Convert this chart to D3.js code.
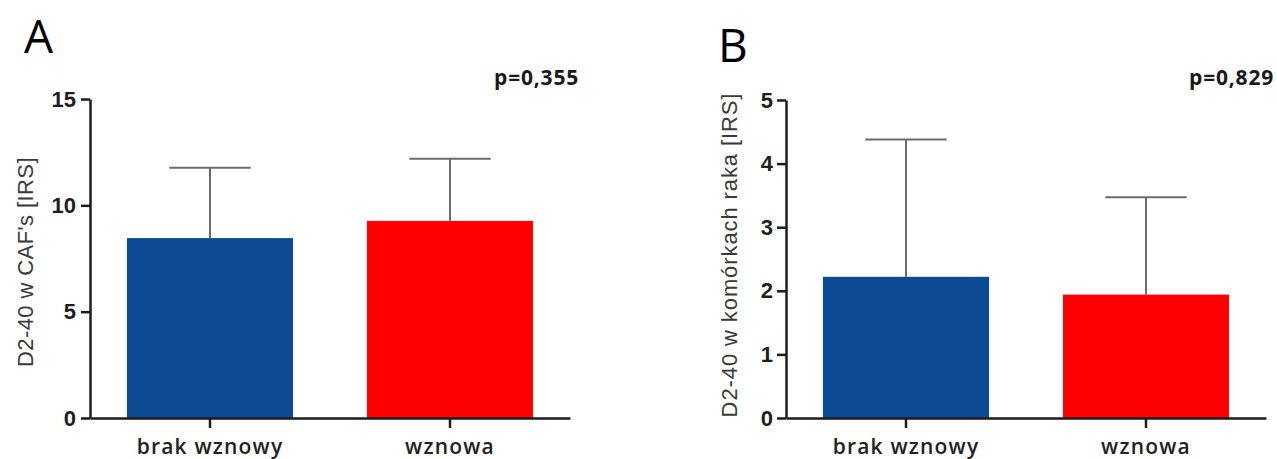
<!DOCTYPE html>
<html>
<head>
<meta charset="utf-8">
<script src="https://cdn.jsdelivr.net/npm/d3@7"></script>
<style>
  html, body { margin: 0; padding: 0; background: #fff; }
  svg { display: block; }
</style>
</head>
<body>
<div id="chart"></div>
<script>
// data
const categories = ["brak wznowy", "wznowa"];
const meansA = [8.46, 9.27];
const upperA = [11.77, 12.19];
const meansB = [2.22, 1.94];
const upperB = [4.38, 3.47];
const ticksA = [0, 5, 10, 15];
const ticksB = [0, 1, 2, 3, 4, 5];
const pValues = ["p=0,355", "p=0,829"];
const barColors = ["#0c4b93", "#ff0000"];

const WIDTH = 1277;
const HEIGHT = 459;
const AXIS_COLOR = "#1c1c1c";
const ERR_COLOR = "#6b6b6b";

const svg = d3
  .select("#chart")
  .append("svg")
  .attr("width", WIDTH)
  .attr("height", HEIGHT);

// draw one panel
function drawPanel(p) {
  const g = svg.append("g");

  const x = d3
    .scaleBand()
    .domain(categories)
    .range(p.xRange)
    .paddingInner(0.308)
    .paddingOuter(0.154);

  const y = d3
    .scaleLinear()
    .domain([0, p.max])
    .range(p.yRange);

  const rows = categories.map((c, i) => ({ cat: c, mean: p.means[i], up: p.upper[i], color: barColors[i] }));

  // error bars (only upper half visible, bar covers the rest)
  const eb = g.append("g").attr("stroke", ERR_COLOR).attr("stroke-width", 2);
  eb.selectAll("line.stem")
    .data(rows)
    .enter()
    .append("line")
    .attr("class", "stem")
    .attr("x1", d => x(d.cat) + x.bandwidth() / 2)
    .attr("x2", d => x(d.cat) + x.bandwidth() / 2)
    .attr("y1", d => y(d.mean))
    .attr("y2", d => y(d.up));
  eb.selectAll("line.cap")
    .data(rows)
    .enter()
    .append("line")
    .attr("class", "cap")
    .attr("x1", d => x(d.cat) + x.bandwidth() / 2 - x.bandwidth() * 0.245)
    .attr("x2", d => x(d.cat) + x.bandwidth() / 2 + x.bandwidth() * 0.245)
    .attr("y1", d => y(d.up))
    .attr("y2", d => y(d.up));

  // bars
  g.append("g")
    .selectAll("rect")
    .data(rows)
    .enter()
    .append("rect")
    .attr("x", d => x(d.cat))
    .attr("width", x.bandwidth())
    .attr("y", d => y(d.mean))
    .attr("height", d => y(0) - y(d.mean))
    .attr("fill", d => d.color);

  // y axis
  const yAxis = g
    .append("g")
    .attr("transform", `translate(${p.xRange[0]},0)`)
    .call(d3.axisLeft(y).tickValues(p.ticks).tickFormat(d3.format("d"))
      .tickSize(9).tickSizeOuter(0).tickPadding(p.tickPad));
  yAxis.selectAll("path, line").attr("stroke", AXIS_COLOR).attr("stroke-width", 2.5);
  yAxis.selectAll("text")
    .attr("fill", "#1e1e1e")
    .attr("font-family", "Liberation Sans, Arial, sans-serif")
    .attr("font-weight", "bold")
    .attr("font-size", 22);

  // x axis
  const xAxis = g
    .append("g")
    .attr("transform", `translate(0,${p.yRange[0]})`)
    .call(d3.axisBottom(x).tickSize(10).tickSizeOuter(0).tickPadding(11));
  xAxis.select("path").attr("stroke", AXIS_COLOR).attr("stroke-width", 2.5);
  xAxis.selectAll("line").attr("stroke", AXIS_COLOR).attr("stroke-width", 2.5);
  xAxis.selectAll("text")
    .attr("fill", "#222")
    .attr("font-family", "Open Sans, sans-serif")
    .attr("font-weight", 600)
    .attr("font-size", 21)
    .attr("letter-spacing", 1.2);

  // y label
  g.append("text")
    .attr("transform", `translate(${p.labelX},${p.labelY}) rotate(-90)`)
    .attr("text-anchor", "middle")
    .attr("fill", "#3a3a3a")
    .attr("font-family", "Liberation Sans, Arial, sans-serif")
    .attr("font-size", p.labelSize)
    .attr("letter-spacing", p.labelSpacing)
    .text(p.label);

  // p value
  g.append("text")
    .attr("x", p.pX)
    .attr("y", 85)
    .attr("text-anchor", "end")
    .attr("fill", "#1a1a1a")
    .attr("font-family", "Open Sans, sans-serif")
    .attr("font-weight", "bold")
    .attr("font-size", 21)
    .attr("letter-spacing", 0.8)
    .text(p.pText);

  // panel letter
  g.append("text")
    .attr("x", p.letterX)
    .attr("y", p.letterY)
    .attr("fill", "#000")
    .attr("font-family", "Open Sans, sans-serif")
    .attr("font-size", 46)
    .text(p.letter);
}

drawPanel({
  means: meansA, upper: upperA, ticks: ticksA, max: 15,
  xRange: [90, 570], yRange: [418, 99], tickPad: 5,
  label: "D2-40 w CAF's [IRS]", labelX: 33, labelY: 262, labelSize: 22, labelSpacing: 0.4,
  pText: pValues[0], pX: 579,
  letter: "A", letterX: 24, letterY: 53
});

drawPanel({
  means: meansB, upper: upperB, ticks: ticksB, max: 5,
  xRange: [786, 1266], yRange: [418, 100], tickPad: 4,
  label: "D2-40 w komórkach raka [IRS]", labelX: 737, labelY: 255, labelSize: 22, labelSpacing: 0.9,
  pText: pValues[1], pX: 1274,
  letter: "B", letterX: 718, letterY: 62
});
</script>
</body>
</html>
